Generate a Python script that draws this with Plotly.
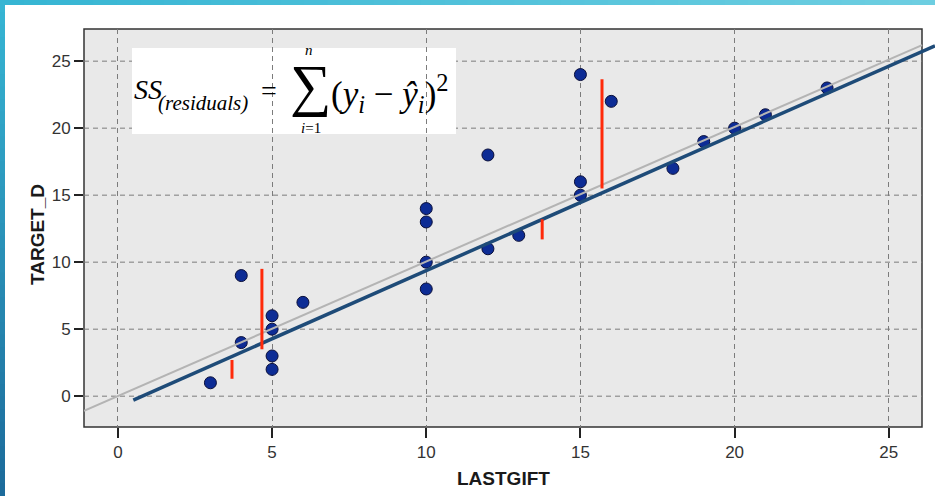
import plotly.graph_objects as go

# ---------------- data ----------------
lastgift = [3, 4, 4, 5, 5, 5, 5, 6, 10, 10, 10, 10, 12, 12, 13, 15, 15, 15, 16, 18, 19, 20, 21, 23]
target_d = [1, 9, 4, 6, 5, 3, 2, 7, 14, 13, 10, 8, 18, 11, 12, 24, 16, 15, 22, 17, 19, 20, 21, 23]

fit_x = [0.5, 26.5]          # dark blue regression line
fit_y = [-0.29, 26.15]
ref_x = [-1.1, 26.08]        # light grey line
ref_y = [-1.1, 26.2]

resid_x = [3.7, 4.67, 13.76, 15.7]     # red residual segments
resid_top = [2.7, 9.5, 13.2, 23.65]
resid_bot = [1.3, 3.5, 11.7, 15.5]

tick_vals = [0, 5, 10, 15, 20, 25]
tick_text = ["0", "5", "10", "15", "20", "25"]

# ---------------- geometry ----------------
W, H = 935, 496
L, R, T, B = 84, 0, 29, 69
PW, PH = W - L - R, H - T - B
FRAME_RIGHT_PX = 922


def pxx(px):
    return (px - L) / PW


def pxy(py):
    return (H - B - py) / PH


SANS = "Liberation Sans, Arial, sans-serif"
SERIF = "Liberation Serif, Times New Roman, DejaVu Serif, serif"

fig = go.Figure()

fig.add_trace(go.Scatter(
    x=lastgift, y=target_d, mode="markers",
    marker=dict(size=12, color="#0d2c95", line=dict(color="#0a0f3a", width=1)),
    showlegend=False, hoverinfo="x+y"))

fig.add_trace(go.Scatter(
    x=ref_x, y=ref_y, mode="lines",
    line=dict(color="#b4b4b4", width=2), showlegend=False))

fig.add_trace(go.Scatter(
    x=fit_x, y=fit_y, mode="lines",
    line=dict(color="#1e4b78", width=3.5), showlegend=False))

rx, ry = [], []
for xv, t, b in zip(resid_x, resid_top, resid_bot):
    rx += [xv, xv, None]
    ry += [t, b, None]
fig.add_trace(go.Scatter(
    x=rx, y=ry, mode="lines",
    line=dict(color="#ff2a0a", width=3), showlegend=False))

shapes = []
# plot frame (grey area, stops before the figure's right edge)
shapes.append(dict(type="rect", xref="paper", yref="paper",
                   x0=0, x1=pxx(FRAME_RIGHT_PX), y0=0, y1=1,
                   fillcolor="#e9e9e9", line=dict(color="#333333", width=1.5),
                   layer="below"))
# horizontal dashed grid lines inside the frame
for v in tick_vals:
    shapes.append(dict(type="line", xref="paper", yref="y",
                       x0=0, x1=pxx(FRAME_RIGHT_PX), y0=v, y1=v,
                       line=dict(color="#7c7c7c", width=1, dash="5px,4px"),
                       layer="between"))
# formula box
shapes.append(dict(type="rect", xref="paper", yref="paper",
                   x0=pxx(132), x1=pxx(456), y0=pxy(134), y1=pxy(48),
                   fillcolor="white", line=dict(width=0), layer="between"))

# decorative gradient border (top and left)
def mix(c1, c2, t):
    a = [int(c1[i:i + 2], 16) for i in (1, 3, 5)]
    b = [int(c2[i:i + 2], 16) for i in (1, 3, 5)]
    return "#%02x%02x%02x" % tuple(round(a[k] + (b[k] - a[k]) * t) for k in range(3))

N = 40
for i in range(N):
    x0p, x1p = W * i / N, W * (i + 1) / N + 1
    shapes.append(dict(type="rect", xref="paper", yref="paper",
                       x0=pxx(x0p), x1=pxx(x1p), y0=pxy(5), y1=pxy(0),
                       fillcolor=mix("#36b5d3", "#6dcee1", i / (N - 1)),
                       line=dict(width=0), layer="above"))
    y0p, y1p = H * i / N, H * (i + 1) / N + 1
    shapes.append(dict(type="rect", xref="paper", yref="paper",
                       x0=pxx(0), x1=pxx(5), y0=pxy(y1p), y1=pxy(y0p),
                       fillcolor=mix("#36b5d3", "#1c6b9b", i / (N - 1)),
                       line=dict(width=0), layer="above"))

annotations = [
    dict(text="<i>SS</i>", x=pxx(132), y=pxy(89), xanchor="left", yanchor="middle",
         font=dict(family=SERIF, size=28, color="black")),
    dict(text="<i>(residuals)</i>", x=pxx(156), y=pxy(103), xanchor="left", yanchor="middle",
         font=dict(family=SERIF, size=21, color="black")),
    dict(text="=", x=pxx(269), y=pxy(90), xanchor="center", yanchor="middle",
         font=dict(family=SERIF, size=28, color="black")),
    dict(text="∑", x=pxx(310), y=pxy(85), xanchor="center", yanchor="middle",
         font=dict(family=SERIF, size=58, color="black")),
    dict(text="<i>n</i>", x=pxx(309), y=pxy(50), xanchor="center", yanchor="middle",
         font=dict(family=SERIF, size=15, color="black")),
    dict(text="<i>i</i>=1", x=pxx(311), y=pxy(128), xanchor="center", yanchor="middle",
         font=dict(family=SERIF, size=15, color="black")),
    dict(text="(<i>y</i><sub><i>i</i></sub> − <i>ŷ</i><sub><i>i</i></sub>)<sup>2</sup>",
         x=pxx(329), y=pxy(93), xanchor="left", yanchor="middle",
         font=dict(family=SERIF, size=35, color="black")),
    dict(text="<b>LASTGIFT</b>", x=pxx(503), y=pxy(478), xanchor="center", yanchor="middle",
         font=dict(family=SANS, size=19, color="#1a1a1a")),
    dict(text="<b>TARGET_D</b>", x=pxx(37), y=pxy(235), xanchor="center", yanchor="middle",
         textangle=-90, font=dict(family=SANS, size=19, color="#1a1a1a")),
]
for a in annotations:
    a.update(xref="paper", yref="paper", showarrow=False)

fig.update_layout(
    width=W, height=H,
    margin=dict(l=L, r=R, t=T, b=B, pad=0),
    paper_bgcolor="white", plot_bgcolor="rgba(0,0,0,0)",
    shapes=shapes, annotations=annotations,
    showlegend=False,
    font=dict(family=SANS, size=17, color="#333333"),
)
fig.update_xaxes(range=[-1.1, 26.5], tickvals=tick_vals, ticktext=tick_text,
                 showgrid=True, gridcolor="#7c7c7c", gridwidth=1, griddash="5px,4px",
                 zeroline=False, showline=False, ticks="outside", ticklen=10,
                 tickwidth=1.5, tickcolor="#222222",
                 tickfont=dict(family=SANS, size=17, color="#333333"))
fig.update_yaxes(range=[-2.3, 27.4], tickvals=tick_vals, ticktext=tick_text,
                 showgrid=False, zeroline=False, showline=False,
                 ticks="outside", ticklen=9, tickwidth=1.5, tickcolor="#222222",
                 tickfont=dict(family=SANS, size=17, color="#333333"))

fig.write_html("out.html")
